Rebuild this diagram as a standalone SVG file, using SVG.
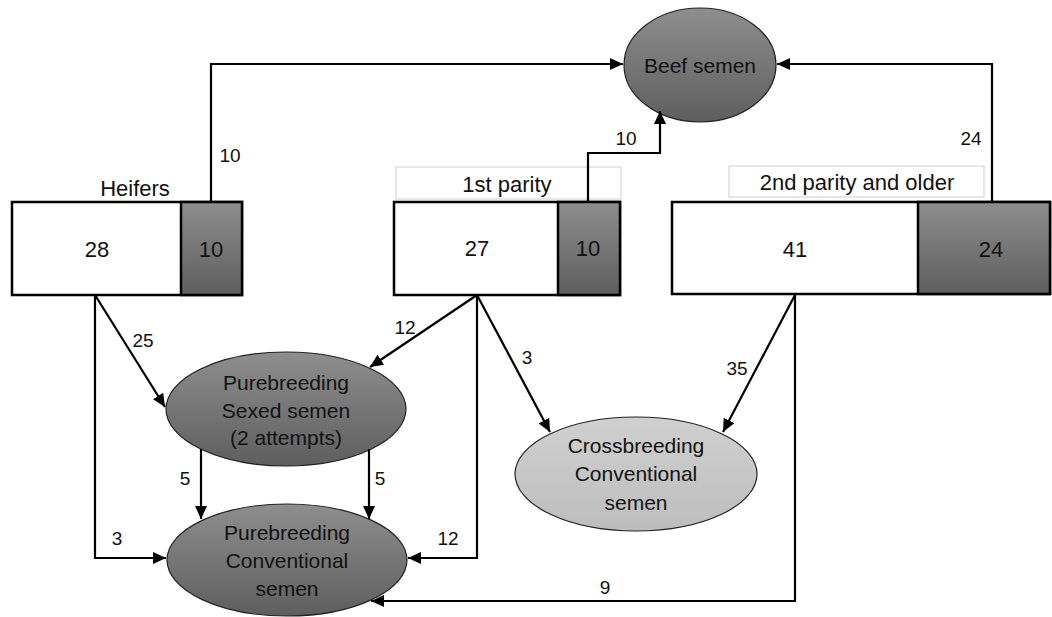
<svg xmlns="http://www.w3.org/2000/svg" width="1052" height="617" viewBox="0 0 1052 617">
<defs>
<linearGradient id="dark" x1="0" y1="0" x2="0" y2="1">
<stop offset="0" stop-color="#8e8e8e"/>
<stop offset="1" stop-color="#5e5e5e"/>
</linearGradient>
<linearGradient id="light" x1="0" y1="0" x2="0" y2="1">
<stop offset="0" stop-color="#d0d0d0"/>
<stop offset="1" stop-color="#bdbdbd"/>
</linearGradient>
<marker id="arr" markerUnits="userSpaceOnUse" markerWidth="14" markerHeight="12" refX="13" refY="6" orient="auto">
<path d="M0,0 L13,6 L0,12 z" fill="#000"/>
</marker>
<style>
.t{font-family:"Liberation Sans",Arial,sans-serif;fill:#111;text-anchor:middle;dominant-baseline:central}
.big{font-size:22px}
.lab{font-size:21px}
.num{font-size:19px}
.box{fill:#fff;stroke:#000;stroke-width:2.5}
.dk{fill:url(#dark);stroke:#000;stroke-width:2.5}
.ell{fill:url(#dark);stroke:#222;stroke-width:1.2}
.ell2{fill:url(#light);stroke:#222;stroke-width:1.2}
.lbox{fill:#fff;stroke:#d8d8d8;stroke-width:1.2}
.c{fill:none;stroke:#000;stroke-width:2.2}
</style>
</defs>
<rect width="1052" height="617" fill="#fff"/>

<g id="beef">
<ellipse class="ell" cx="700" cy="65" rx="76" ry="57"/>
<text class="t lab" x="700" y="65">Beef semen</text>
</g>

<g id="heifers">
<text class="t big" x="135" y="188">Heifers</text>
<rect class="box" x="12" y="202" width="230" height="93"/>
<rect class="dk" x="181" y="202" width="61" height="93"/>
<text class="t big" x="97" y="249">28</text>
<text class="t big" x="211" y="249">10</text>
</g>

<g id="parity1">
<rect class="lbox" x="396" y="167" width="225" height="32"/>
<text class="t big" x="507" y="184">1st parity</text>
<rect class="box" x="394" y="202" width="226" height="93"/>
<rect class="dk" x="558" y="202" width="62" height="93"/>
<text class="t big" x="477" y="248">27</text>
<text class="t big" x="588" y="248">10</text>
</g>

<g id="parity2">
<rect class="lbox" x="729" y="166" width="255" height="31"/>
<text class="t big" x="857" y="182">2nd parity and older</text>
<rect class="box" x="672" y="202" width="378" height="92"/>
<rect class="dk" x="918" y="202" width="132" height="92"/>
<text class="t big" x="795" y="249">41</text>
<text class="t big" x="991" y="249">24</text>
</g>

<g id="sexed">
<ellipse class="ell" cx="286" cy="409" rx="120" ry="57"/>
<text class="t lab" x="286" y="382">Purebreeding</text>
<text class="t lab" x="286" y="410">Sexed semen</text>
<text class="t lab" x="286" y="437">(2 attempts)</text>
</g>

<g id="conventional">
<ellipse class="ell" cx="287" cy="560" rx="120" ry="56"/>
<text class="t lab" x="287" y="532">Purebreeding</text>
<text class="t lab" x="287" y="560">Conventional</text>
<text class="t lab" x="287" y="588">semen</text>
</g>

<g id="crossbreeding">
<ellipse class="ell2" cx="636" cy="474" rx="121" ry="57"/>
<text class="t lab" x="636" y="445">Crossbreeding</text>
<text class="t lab" x="636" y="473">Conventional</text>
<text class="t lab" x="636" y="502">semen</text>
</g>

<g id="connectors">
<path class="c" d="M211,202 V64 H623" marker-end="url(#arr)"/>
<path class="c" d="M588,202 V153 H660 V111" marker-end="url(#arr)"/>
<path class="c" d="M992,202 V64 H777" marker-end="url(#arr)"/>
<path class="c" d="M95,295 L165,407" marker-end="url(#arr)"/>
<path class="c" d="M477,295 L370,367" marker-end="url(#arr)"/>
<path class="c" d="M477,295 L550,432" marker-end="url(#arr)"/>
<path class="c" d="M795,295 L723,432" marker-end="url(#arr)"/>
<path class="c" d="M201,449 V519" marker-end="url(#arr)"/>
<path class="c" d="M369,449 V519" marker-end="url(#arr)"/>
<path class="c" d="M95,295 V558 H166" marker-end="url(#arr)"/>
<path class="c" d="M477,295 V558 H408" marker-end="url(#arr)"/>
<path class="c" d="M795,295 V601 H371" marker-end="url(#arr)"/>
<text class="t num" x="230" y="155">10</text>
<text class="t num" x="626" y="138">10</text>
<text class="t num" x="971" y="138">24</text>
<text class="t num" x="143" y="340">25</text>
<text class="t num" x="405" y="327">12</text>
<text class="t num" x="527" y="357">3</text>
<text class="t num" x="737" y="368">35</text>
<text class="t num" x="185" y="478">5</text>
<text class="t num" x="380" y="478">5</text>
<text class="t num" x="117" y="538">3</text>
<text class="t num" x="448" y="538">12</text>
<text class="t num" x="605" y="587">9</text>
</g>
</svg>
